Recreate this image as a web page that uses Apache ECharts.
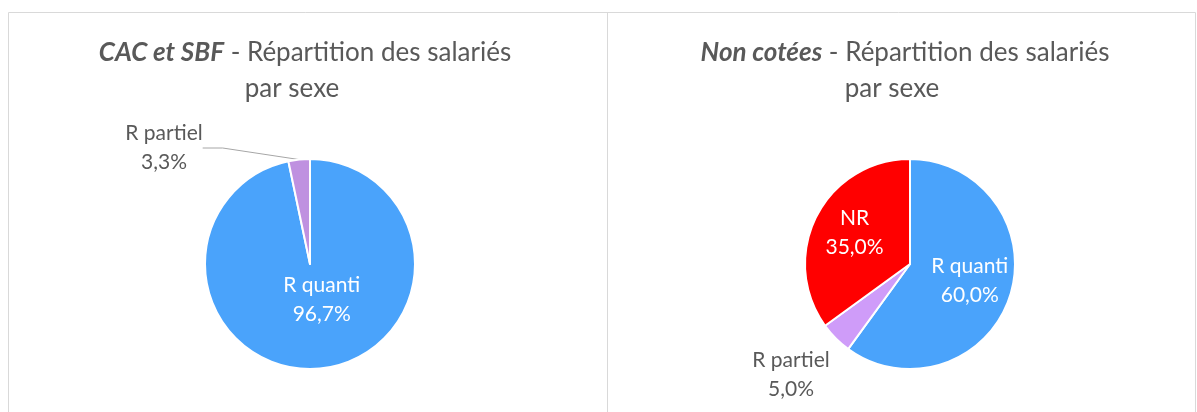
<!DOCTYPE html>
<html>
<head>
<meta charset="utf-8">
<script src="https://cdn.jsdelivr.net/npm/echarts@6/dist/echarts.min.js"></script>
<style>
  html, body { margin: 0; padding: 0; background: #fff; }
  #chart { width: 1197px; height: 412px; }
</style>
</head>
<body>
<div id="chart"></div>
<script>
// données
const catsCac = ['R quanti', 'R partiel']
const valsCac = [96.7, 3.3]
const colorsCac = ['#4aa3fb', '#bf91e0']

const catsNc = ['R quanti', 'R partiel', 'NR']
const valsNc = [60.0, 5.0, 35.0]
const colorsNc = ['#4aa3fb', '#cf9cf9', '#ff0000']

const titleCac = 'CAC et SBF'
const titleNc = 'Non cotées'
const subtitle = ' - Répartition des salariés'
const subtitle2 = 'par sexe'

const fmt = (v) => v.toFixed(1).replace('.', ',') + '%'

const chart = echarts.init(document.getElementById('chart'))

const makeData = (cats, vals, colors) => cats.map((name, i) => ({
  name: name,
  value: vals[i],
  itemStyle: { color: colors[i] }
}))

const titleStyle = {
  fontFamily: 'Lato',
  fontSize: 26,
  fontWeight: 'normal',
  color: '#595959',
  lineHeight: 36,
  rich: {
    b: { fontFamily: 'Lato', fontSize: 26, lineHeight: 36, fontStyle: 'italic', fontWeight: 'bold', color: '#595959' },
    n: { fontFamily: 'Lato', fontSize: 26, lineHeight: 36, color: '#595959' }
  }
}

const labelBase = {
  fontFamily: 'Lato',
  fontSize: 21,
  lineHeight: 29,
  formatter: (p) => p.name + '\n' + fmt(p.value)
}

// petits décalages des étiquettes intérieures (dx, dy)
const shiftCac = [[6, -19], [0, 0]]
const shiftNc = [[7, 0], [0, 0], [-6, -6]]

const cacData = makeData(catsCac, valsCac, colorsCac)
const ncData = makeData(catsNc, valsNc, colorsNc)

const mkTitle = (text, x, y) => ({ text: text, left: x, top: y, padding: 0, textAlign: 'center', textStyle: titleStyle })

const option = {
  animation: false,
  textStyle: { fontFamily: 'Lato' },
  title: [
    mkTitle('{b|' + titleCac + '}{n|' + subtitle + '}', 305, 35),
    mkTitle(subtitle2, 292, 71),
    mkTitle('{b|' + titleNc + '}{n|' + subtitle + '}', 905, 35),
    mkTitle(subtitle2, 892, 71)
  ],
  graphic: [
    { type: 'rect', shape: { x: 8.5, y: 12.5, width: 1187, height: 420 }, style: { fill: 'none', stroke: '#d9d9d9', lineWidth: 1 } },
    { type: 'line', shape: { x1: 607.5, y1: 12.5, x2: 607.5, y2: 412 }, style: { stroke: '#d9d9d9', lineWidth: 1 } }
  ],
  series: [
    {
      type: 'pie',
      center: [310, 264],
      radius: [0, 105],
      startAngle: 90,
      clockwise: true,
      itemStyle: { borderColor: '#fff', borderWidth: 2 },
      label: labelBase,
      labelLayout: (p) => {
        if (p.dataIndex === 1) return { x: 164, y: 148, align: 'center' }
        return { dx: shiftCac[p.dataIndex][0], dy: shiftCac[p.dataIndex][1] }
      },
      data: [
        { ...cacData[0], label: { position: 'inside', color: '#fff' } },
        {
          ...cacData[1],
          label: { position: 'outside', color: '#595959', align: 'center' },
          labelLine: { show: true, length: 10, length2: 20, lineStyle: { color: '#a6a6a6', width: 1 } }
        }
      ]
    },
    {
      type: 'pie',
      center: [910, 264],
      radius: [0, 105],
      startAngle: 90,
      clockwise: true,
      itemStyle: { borderColor: '#fff', borderWidth: 2 },
      label: labelBase,
      labelLayout: (p) => {
        if (p.dataIndex === 1) return { x: 791, y: 375, align: 'center' }
        return { dx: shiftNc[p.dataIndex][0], dy: shiftNc[p.dataIndex][1] }
      },
      data: [
        { ...ncData[0], label: { position: 'inside', color: '#fff' } },
        {
          ...ncData[1],
          label: { position: 'outside', color: '#595959', align: 'center' },
          labelLine: { show: false, length: 4, length2: 4 }
        },
        { ...ncData[2], label: { position: 'inside', color: '#fff' } }
      ]
    }
  ]
}

chart.setOption(option)
</script>
</body>
</html>
